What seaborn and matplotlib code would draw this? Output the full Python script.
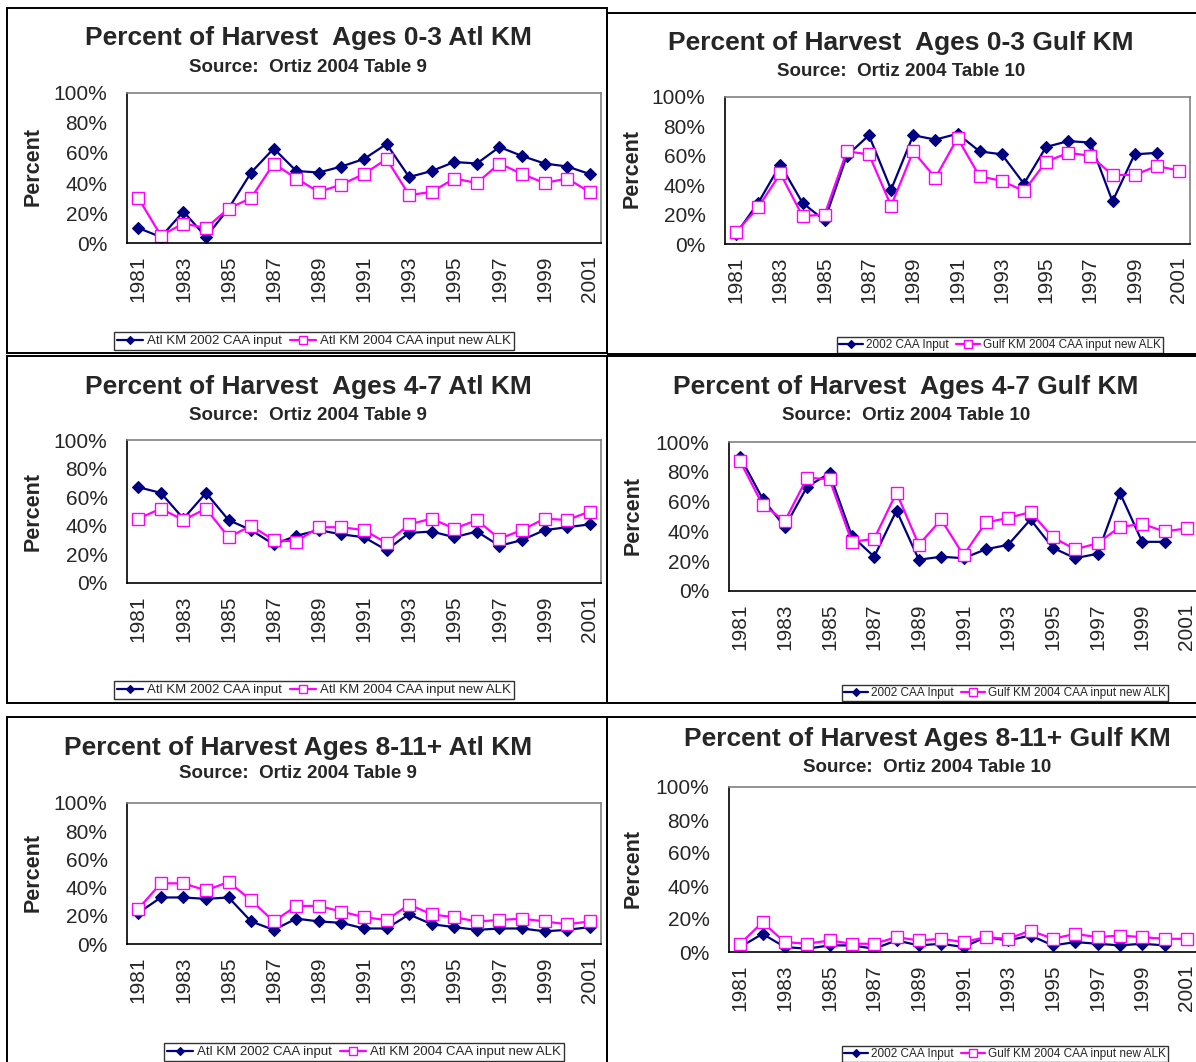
import numpy as np
import pandas as pd
import seaborn as sns
import matplotlib.pyplot as plt
from matplotlib.patches import Rectangle
from matplotlib.ticker import FixedLocator

years = list(range(1981, 2002))
nan = np.nan

# percent of harvest
atl_03_2002 = [10, 4, 21, 4, 23, 47, 63, 48, 47, 51, 56, 66, 44, 48, 54, 53, 64, 58, 53, 51, 46]
atl_03_2004 = [30, 5, 13, 10, 23, 30, 53, 43, 34, 39, 46, 56, 32, 34, 43, 40, 53, 46, 40, 43, 34]

gulf_03_2002 = [7, 28, 54, 28, 16, 60, 74, 37, 74, 71, 75, 63, 61, 41, 66, 70, 69, 29, 61, 62, nan]
gulf_03_2004 = [8, 25, 48, 19, 20, 63, 61, 26, 63, 45, 72, 46, 43, 36, 56, 62, 60, 47, 47, 53, 50]

atl_47_2002 = [67, 63, 45, 63, 44, 37, 27, 33, 37, 34, 32, 23, 35, 36, 32, 36, 26, 30, 37, 39, 41]
atl_47_2004 = [45, 52, 44, 52, 32, 40, 30, 29, 39, 39, 37, 28, 41, 45, 38, 44, 31, 37, 45, 44, 50]

gulf_47_2002 = [90, 62, 43, 70, 79, 37, 23, 54, 21, 23, 22, 28, 31, 48, 29, 22, 25, 66, 33, 33, nan]
gulf_47_2004 = [87, 58, 47, 76, 75, 33, 35, 66, 31, 48, 24, 46, 49, 53, 36, 28, 32, 43, 45, 40, 42]

atl_811_2002 = [22, 33, 33, 32, 33, 16, 10, 18, 16, 15, 11, 11, 21, 14, 12, 10, 11, 11, 9, 10, 12]
atl_811_2004 = [25, 43, 43, 38, 44, 31, 16, 27, 27, 23, 19, 17, 28, 21, 19, 16, 17, 18, 16, 14, 16]

gulf_811_2002 = [3, 11, 3, 2, 4, 4, 2, 7, 4, 5, 3, 9, 7, 10, 4, 6, 5, 4, 5, 4, nan]
gulf_811_2004 = [5, 18, 6, 5, 7, 5, 5, 9, 7, 8, 6, 9, 8, 13, 8, 11, 9, 10, 9, 8, 8]

atl_labels = ['Atl KM 2002 CAA input', 'Atl KM 2004 CAA input new ALK']
gulf_labels = ['2002 CAA Input', 'Gulf KM 2004 CAA input new ALK']

titles = ['Percent of Harvest  Ages 0-3 Atl KM', 'Percent of Harvest  Ages 0-3 Gulf KM',
          'Percent of Harvest  Ages 4-7 Atl KM', 'Percent of Harvest  Ages 4-7 Gulf KM',
          'Percent of Harvest Ages 8-11+ Atl KM', 'Percent of Harvest Ages 8-11+ Gulf KM']
subtitles = ['Source:  Ortiz 2004 Table 9', 'Source:  Ortiz 2004 Table 10'] * 3

sns.set_style('white')
plt.rcParams['font.family'] = ['Liberation Sans', 'DejaVu Sans']

W, H = 1196, 1062
fig = plt.figure(figsize=(W / 100, H / 100), dpi=100)

BLUE = '#000080'
PINK = '#FF00FF'

# layout in pixels: frame, axes box, title y, subtitle y, title x, ylabel x/y, legend centre
panels = [
    dict(a=atl_03_2002, b=atl_03_2004, lab=atl_labels, frame=(7, 8, 607, 353), ax=(127, 93, 601, 243),
         tx=308, ty=38, sy=67, yl=(33, 167), leg=(314, 341), lfs=9.5),
    dict(a=gulf_03_2002, b=gulf_03_2004, lab=gulf_labels, frame=(607, 13, 1205, 354), ax=(725, 97, 1190, 244),
         tx=901, ty=43, sy=72, yl=(632, 168), leg=(1000, 345), lfs=8.5),
    dict(a=atl_47_2002, b=atl_47_2004, lab=atl_labels, frame=(7, 356, 607, 703), ax=(127, 440, 601, 583),
         tx=308, ty=387, sy=415, yl=(33, 512), leg=(314, 690), lfs=9.5),
    dict(a=gulf_47_2002, b=gulf_47_2004, lab=gulf_labels, frame=(607, 356, 1205, 703), ax=(729, 442, 1198, 591),
         tx=906, ty=387, sy=415, yl=(633, 515), leg=(1005, 693), lfs=8.5),
    dict(a=atl_811_2002, b=atl_811_2004, lab=atl_labels, frame=(7, 717, 607, 1070), ax=(127, 803, 601, 944),
         tx=298, ty=748, sy=774, yl=(33, 873), leg=(364, 1052), lfs=9.5),
    dict(a=gulf_811_2002, b=gulf_811_2004, lab=gulf_labels, frame=(607, 717, 1205, 1070), ax=(729, 787, 1198, 952),
         tx=927, ty=739, sy=767, yl=(633, 868), leg=(1005, 1054), lfs=8.5),
]

pos = np.arange(len(years))

for i, p in enumerate(panels):
    fx0, fy0, fx1, fy1 = p['frame']
    fig.add_artist(Rectangle((fx0 / W, 1 - fy1 / H), (fx1 - fx0) / W, (fy1 - fy0) / H,
                             transform=fig.transFigure, fill=False, ec='black', lw=1.4))

    x0, y0, x1, y1 = p['ax']
    ax = fig.add_axes([x0 / W, 1 - y1 / H, (x1 - x0) / W, (y1 - y0) / H])

    df = pd.DataFrame({'pos': pos, 'old': p['a'], 'new': p['b']})
    sns.lineplot(data=df.dropna(subset=['old']), x='pos', y='old', ax=ax, color=BLUE, lw=1.6,
                 marker='D', markersize=6.5, markerfacecolor=BLUE, markeredgecolor=BLUE,
                 markeredgewidth=0.8, label=p['lab'][0], legend=False)
    sns.lineplot(data=df, x='pos', y='new', ax=ax, color=PINK, lw=1.6,
                 marker='s', markersize=8, markerfacecolor='white', markeredgecolor=PINK,
                 markeredgewidth=1.0, label=p['lab'][1], legend=False)

    ax.set_xlim(-0.5, 20.5)
    ax.set_ylim(0, 100)
    ax.set_xlabel('')
    ax.set_ylabel('')
    ax.set_yticks(range(0, 101, 20))
    ax.set_yticklabels([f'{v}%' for v in range(0, 101, 20)], fontsize=15)
    ax.set_xticks(pos[::2])
    ax.set_xticklabels([str(y) for y in years[::2]], rotation=90, fontsize=15)
    ax.xaxis.set_minor_locator(FixedLocator(np.arange(-0.5, 21, 1)))
    ax.tick_params(axis='x', which='major', length=0, pad=9)
    ax.tick_params(axis='x', which='minor', length=6, width=1, direction='out', color='black')
    ax.tick_params(axis='y', which='major', length=6, width=1, direction='out', color='black', pad=8)
    for side in ['left', 'bottom']:
        ax.spines[side].set_color('black')
        ax.spines[side].set_linewidth(1.2)
    for side in ['top', 'right']:
        ax.spines[side].set_color('#808080')
        ax.spines[side].set_linewidth(1.2)
    ax.grid(False)

    fig.text(p['tx'] / W, 1 - p['ty'] / H, titles[i], ha='center', va='center',
             fontsize=19, fontweight='bold')
    fig.text(p['tx'] / W, 1 - p['sy'] / H, subtitles[i], ha='center', va='center',
             fontsize=13.5, fontweight='bold')
    fig.text(p['yl'][0] / W, 1 - p['yl'][1] / H, 'Percent', ha='center', va='center',
             rotation=90, fontsize=15.5, fontweight='bold')

    handles, labels = ax.get_legend_handles_labels()
    leg = ax.legend(handles, labels, loc='center', ncol=2,
                    bbox_to_anchor=(p['leg'][0] / W, 1 - p['leg'][1] / H), bbox_transform=fig.transFigure,
                    fontsize=p['lfs'], frameon=True, fancybox=False, shadow=False,
                    borderpad=0.2, handlelength=2.0, handletextpad=0.3, columnspacing=0.6,
                    markerscale=0.7, borderaxespad=0)
    leg.get_frame().set_edgecolor('black')
    leg.get_frame().set_linewidth(1.0)

fig.savefig('out.png', dpi=100)
